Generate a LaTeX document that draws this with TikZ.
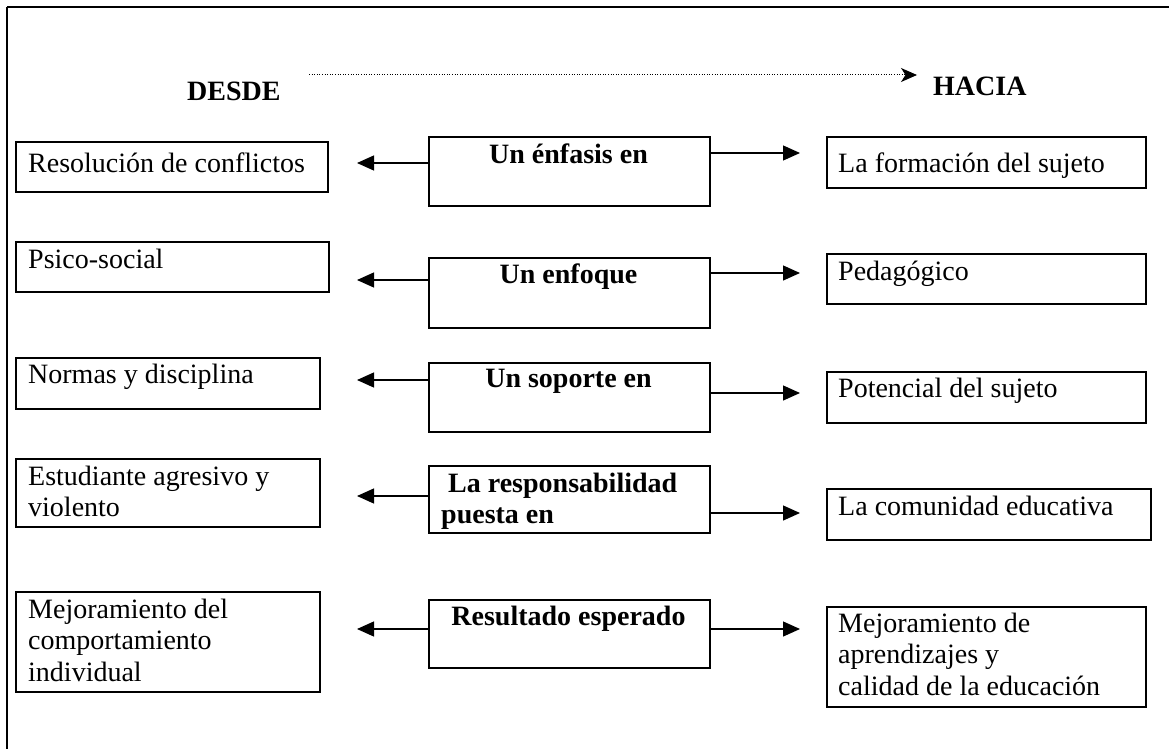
\documentclass[tikz,border=0pt]{standalone}
\usepackage{fontspec}
\setmainfont{Liberation Serif}
\usetikzlibrary{arrows.meta}
\tikzset{
  box/.style={draw, line width=1.8pt, rectangle, inner sep=0pt, anchor=north west},
  txt/.style={inner sep=0pt, anchor=north west, align=left, font=\fontsize{28}{31.7}\selectfont},
  ctxt/.style={inner sep=0pt, anchor=north, align=center, font=\fontsize{28}{31.7}\selectfont\bfseries},
  head/.style={inner sep=0pt, anchor=base west, font=\fontsize{28}{31.7}\selectfont\bfseries},
  arr/.style={line width=1.3pt, -{Triangle[length=17pt,width=15pt]}},
  dots/.style={line width=1pt, dash pattern=on 1pt off 1.6pt, -{Stealth[length=16pt,width=14pt,inset=4.5pt]}},
}
\newcommand{\fs}{\rule{0pt}{22.19pt}}
\begin{document}
\begin{tikzpicture}[x=1pt,y=-1pt]
\useasboundingbox (0,0) rectangle (1169,749);
% frame
\draw[line width=2.5pt] (7,7) -- (1169,7);
\draw[line width=1.8pt] (7,7) -- (7,749);
% headings
\node[head] (desde) at (187,101) {DESDE};
\node[head] (hacia) at (933,96) {HACIA};
\coordinate (ds) at (309,75);
\coordinate (de) at (917,75);
\draw[dots] (ds) -- (de);
% boxes
\node[box, minimum width=312pt, minimum height=50pt] (L1) at (15,141) {};
\node[box, minimum width=281pt, minimum height=69pt] (C1) at (428,136) {};
\node[box, minimum width=319pt, minimum height=51pt] (R1) at (826,136) {};
\node[box, minimum width=313pt, minimum height=50pt] (L2) at (15,241) {};
\node[box, minimum width=281pt, minimum height=70pt] (C2) at (428,257) {};
\node[box, minimum width=319pt, minimum height=50pt] (R2) at (826,253) {};
\node[box, minimum width=304pt, minimum height=51pt] (L3) at (15,357) {};
\node[box, minimum width=281pt, minimum height=69pt] (C3) at (428,362) {};
\node[box, minimum width=319pt, minimum height=51pt] (R3) at (826,371) {};
\node[box, minimum width=304pt, minimum height=68pt] (L4) at (15,458) {};
\node[box, minimum width=281pt, minimum height=67pt] (C4) at (428,465) {};
\node[box, minimum width=324pt, minimum height=51pt] (R4) at (826,488) {};
\node[box, minimum width=304pt, minimum height=100pt] (L5) at (15,591) {};
\node[box, minimum width=281pt, minimum height=68pt] (C5) at (428,599) {};
\node[box, minimum width=319pt, minimum height=100pt] (R5) at (826,606) {};
% texts
\node[txt] (L1t) at (28,149.8) {\fs Resolución de conflictos};
\node[ctxt] (C1t) at (568.5,140.8) {\fs Un énfasis en};
\node[txt] (R1t) at (838,149.8) {\fs La formación del sujeto};
\node[txt] (L2t) at (28,245.8) {\fs Psico-social};
\node[ctxt] (C2t) at (568.5,260.8) {\fs Un enfoque};
\node[txt] (R2t) at (838,257.8) {\fs Pedagógico};
\node[txt] (L3t) at (28,360.8) {\fs Normas y disciplina};
\node[ctxt] (C3t) at (568.5,364.8) {\fs Un soporte en};
\node[txt] (R3t) at (838,374.8) {\fs Potencial del sujeto};
\node[txt] (L4t) at (28,462.8) {\fs Estudiante agresivo y\\violento};
\node[txt, font=\fontsize{28}{31.7}\selectfont\bfseries] (C4t) at (441,469.8) {\fs\ La responsabilidad\\puesta en};
\node[txt] (R4t) at (838,492.8) {\fs La comunidad educativa};
\node[txt] (L5t) at (28,595.8) {\fs Mejoramiento del\\comportamiento\\individual};
\node[ctxt] (C5t) at (568.5,602.8) {\fs Resultado esperado};
\node[txt] (R5t) at (838,609.8) {\fs Mejoramiento de\\aprendizajes y\\calidad de la educación};
% arrow ends
\coordinate (a1l) at (357,163);
\coordinate (a1r) at (800,153);
\coordinate (a2l) at (357,280);
\coordinate (a2r) at (800,273);
\coordinate (a3l) at (357,380);
\coordinate (a3r) at (800,393);
\coordinate (a4l) at (357,496);
\coordinate (a4r) at (800,513);
\coordinate (a5l) at (357,629);
\coordinate (a5r) at (800,629);
\draw[arr] (C1.west |- a1l) -- (a1l);
\draw[arr] (C1.east |- a1r) -- (a1r);
\draw[arr] (C2.west |- a2l) -- (a2l);
\draw[arr] (C2.east |- a2r) -- (a2r);
\draw[arr] (C3.west |- a3l) -- (a3l);
\draw[arr] (C3.east |- a3r) -- (a3r);
\draw[arr] (C4.west |- a4l) -- (a4l);
\draw[arr] (C4.east |- a4r) -- (a4r);
\draw[arr] (C5.west |- a5l) -- (a5l);
\draw[arr] (C5.east |- a5r) -- (a5r);
\end{tikzpicture}
\end{document}
